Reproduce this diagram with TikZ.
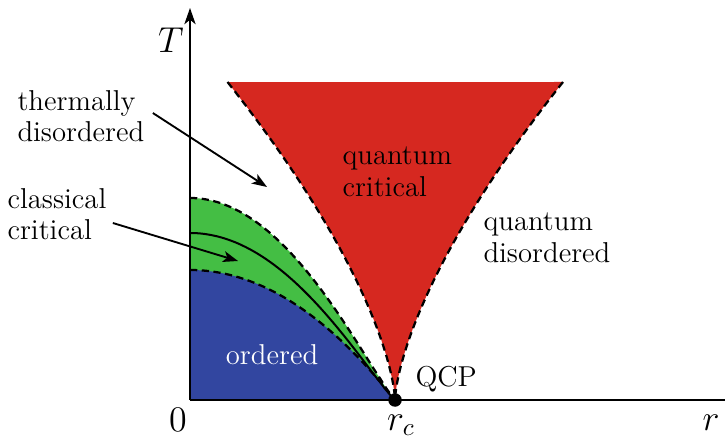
\documentclass[tikz,border=0pt]{standalone}
\usepackage{amsmath,amssymb}
\usepackage{xcolor}
\usepackage{tikz}
\usetikzlibrary{arrows.meta}
\definecolor{qcred}{RGB}{214,40,32}
\definecolor{ccgreen}{RGB}{68,190,68}
\definecolor{ordblue}{RGB}{50,70,160}

\begin{document}
\begin{tikzpicture}[x=0.4pt,y=-0.4pt,font=\fontsize{11.5}{12.6}\selectfont,
  axis/.style={line width=0.8pt,-{Stealth[length=6.5pt,width=4.5pt,inset=1.8pt]}},
  border/.style={line width=0.9pt,dash pattern=on 2.9pt off 1.8pt},
  pointer/.style={line width=0.75pt,-{Stealth[length=6pt,width=4.4pt,inset=1.5pt]}},
  lab/.style={align=left,inner sep=0pt,anchor=west},
  axlab/.style={font=\fontsize{14}{16}\selectfont,inner sep=0pt,anchor=base}]
  \useasboundingbox (0,0) rectangle (725,438);
  \coordinate (origin) at (190,400);
  \coordinate (Ttop) at (190,8);
  \coordinate (rend) at (745,400);
  \coordinate (rc) at (395,400);
  \fill[ccgreen] (origin) -- plot[domain=0:0.999,variable=\u,samples=60]
    ({190+205*\u},{400-202*(1-\u*\u)^1.15}) -- (rc) -- cycle;
  \fill[ordblue] (origin) -- plot[domain=0:1,variable=\u,samples=60]
    ({190+205*\u},{400-130*(1-\u*\u)}) -- (rc) -- cycle;
  \draw[line width=0.8pt] plot[domain=0:0.999,variable=\u,samples=60]
    ({190+205*\u},{400-167*(1-\u*\u)^1.15}) -- (rc);
  \draw[border] plot[domain=0:0.999,variable=\u,samples=60]
    ({190+205*\u},{400-202*(1-\u*\u)^1.15}) -- (rc);
  \draw[border] plot[domain=0:1,variable=\u,samples=60]
    ({190+205*\u},{400-130*(1-\u*\u)});
  \fill[qcred] (rc) -- plot[domain=0:1,variable=\s,samples=60]
    ({395-167.5*\s*sqrt(\s)},{400-318*\s})
    -- plot[domain=1:0,variable=\s,samples=60]
    ({395+168*\s*sqrt(\s)},{400-318*\s}) -- cycle;
  \draw[border] plot[domain=1:0,variable=\s,samples=60]
    ({395-167.5*\s*sqrt(\s)},{400-318*\s});
  \draw[border] plot[domain=1:0,variable=\s,samples=60]
    ({395+168*\s*sqrt(\s)},{400-318*\s});
  \draw[axis] (origin) -- (Ttop);
  \draw[axis] (origin) -- (rend);
  \node[circle,fill,inner sep=0pt,minimum size=5.4pt] (qcp) at (rc) {};
  \node[axlab] (Tlab) at (171,53) {$T$};
  \node[axlab] (zero) at (178,431) {$0$};
  \node[axlab] (rclab) at (401,430) {$r_c$};
  \node[axlab] (rlab) at (711,430) {$r$};
  \node[inner sep=0pt,anchor=base west] (qcplab) at (415,387) {QCP};
  \node[inner sep=0pt,anchor=base,white] (ordlab) at (272,365) {ordered};
  \node[lab] (qclab) at (342,172) {quantum\\critical};
  \node[lab] (qdlab) at (483,238) {quantum\\disordered};
  \node[lab] (tdlab) at (17,116) {thermally\\disordered};
  \node[lab] (cclab) at (7,214) {classical\\critical};
  \coordinate (tdtip) at (267,187);
  \coordinate (cctip) at (238,261);
  \draw[pointer] ([shift={(8,-3)}]tdlab.east) -- (tdtip);
  \draw[pointer] ([shift={(6,9)}]cclab.east) -- (cctip);
\end{tikzpicture}
\end{document}
